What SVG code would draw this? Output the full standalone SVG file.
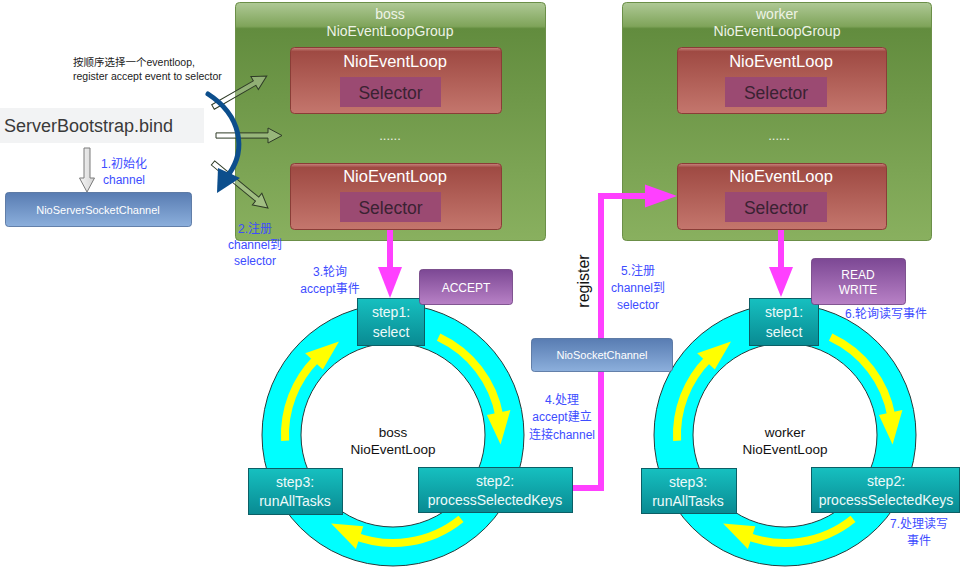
<svg xmlns="http://www.w3.org/2000/svg" xmlns:xlink="http://www.w3.org/1999/xlink" width="960" height="571" viewBox="0 0 960 571">
<defs>
<linearGradient id="gGroup" x1="0" y1="0" x2="0" y2="1">
<stop offset="0" stop-color="#afc996"/>
<stop offset="0.1" stop-color="#7fa45a"/>
<stop offset="0.11" stop-color="#628c3e"/>
<stop offset="1" stop-color="#89b05f"/>
</linearGradient>
<linearGradient id="gRed" x1="0" y1="0" x2="0" y2="1">
<stop offset="0" stop-color="#c98780"/>
<stop offset="0.06" stop-color="#9f4a43"/>
<stop offset="1" stop-color="#c4766d"/>
</linearGradient>
<linearGradient id="gBlue" x1="0" y1="0" x2="0" y2="1">
<stop offset="0" stop-color="#587cb2"/>
<stop offset="1" stop-color="#8cafdc"/>
</linearGradient>
<linearGradient id="gStep" x1="0" y1="0" x2="0" y2="1">
<stop offset="0" stop-color="#16c0c0"/>
<stop offset="1" stop-color="#098a92"/>
</linearGradient>
<linearGradient id="gPurple" x1="0" y1="0" x2="0" y2="1">
<stop offset="0" stop-color="#7c4894"/>
<stop offset="1" stop-color="#b881c6"/>
</linearGradient>
<linearGradient id="gGray" x1="0" y1="0" x2="1" y2="0">
<stop offset="0" stop-color="#f6f6f6"/>
<stop offset="1" stop-color="#d4d4d4"/>
</linearGradient>
<g id="cycle">
<circle cx="393" cy="435" r="131" fill="#00ffff" stroke="#2a3a3a" stroke-width="1"/>
<circle cx="393" cy="435" r="92" fill="#ffffff" stroke="#2a3a3a" stroke-width="1"/>
<path class="yarc" d="M438.6,337.1 A108,108 0 0 1 499.4,416.2"/>
<polygon class="yhead" points="486.9,415 510.4,410.1 500.6,444.4"/>
<path class="yarc" d="M461,518.9 A108,108 0 0 1 352.5,535.1"/>
<polygon class="yhead" points="363.3,526.3 355.9,549.1 331.1,523.5"/>
<path class="yarc" d="M285.1,440.7 A108,108 0 0 1 316.6,358.6"/>
<polygon class="yhead" points="322.8,369.5 305.2,353.2 339,341.5"/>
</g>
</defs>
<style>
text{font-family:"Liberation Sans","Noto Sans CJK SC",sans-serif;}
.grp{fill:url(#gGroup);stroke:#6b8f48;stroke-width:1;}
.gt{fill:#eef3e6;font-size:14px;text-anchor:middle;}
.red{fill:url(#gRed);stroke:#8a3d37;stroke-width:1;}
.nel{fill:#ffffff;font-size:16.5px;text-anchor:middle;}
.sel{fill:#9b4a72;}
.selt{fill:#3a2232;font-size:17.5px;text-anchor:middle;}
.dots{fill:#eef3e6;font-size:13px;text-anchor:middle;}
.step{fill:url(#gStep);stroke:#0b5f66;stroke-width:1;}
.stept{fill:#eefafa;font-size:14px;text-anchor:middle;}
.blue{fill:url(#gBlue);stroke:#4a6a98;stroke-width:0.8;}
.bluet{fill:#ffffff;font-size:11px;text-anchor:middle;}
.lbl{fill:#3d4cff;font-size:12px;text-anchor:middle;}
.ctr{fill:#111;font-size:13.5px;text-anchor:middle;}
.pur{fill:url(#gPurple);stroke:#6b3b7d;stroke-width:0.8;}
.purt{fill:#ffffff;font-size:12px;text-anchor:middle;}
.yarc{fill:none;stroke:#ffff00;stroke-width:8;}
.yhead{fill:#ffff00;}
.pink{fill:none;stroke:#ff40ff;stroke-width:6;}
.pinkh{fill:#ff40ff;}
.hol{fill:#ffffff;fill-opacity:0.25;stroke:#2e3b26;stroke-width:1;}
</style>

<g id="boss-group">
<rect class="grp" x="235.5" y="2.5" width="310" height="238" rx="4"/>
<text class="gt" x="390" y="19">boss</text>
<text class="gt" x="390" y="36">NioEventLoopGroup</text>
<rect class="red" x="290.5" y="47.5" width="211" height="66" rx="4"/>
<text class="nel" x="395" y="67">NioEventLoop</text>
<rect class="sel" x="340" y="77" width="101" height="30"/>
<text class="selt" x="390.5" y="99">Selector</text>
<text class="dots" x="390" y="140">......</text>
<rect class="red" x="290.5" y="163.5" width="211" height="66" rx="4"/>
<text class="nel" x="395" y="182">NioEventLoop</text>
<rect class="sel" x="340" y="192" width="101" height="30"/>
<text class="selt" x="390.5" y="214">Selector</text>
</g>

<g id="worker-group">
<rect class="grp" x="622.5" y="2.5" width="309" height="238" rx="4"/>
<text class="gt" x="777" y="19">worker</text>
<text class="gt" x="777" y="36">NioEventLoopGroup</text>
<rect class="red" x="677.5" y="47.5" width="209" height="66" rx="4"/>
<text class="nel" x="781" y="67">NioEventLoop</text>
<rect class="sel" x="725" y="77" width="102" height="30"/>
<text class="selt" x="776" y="99">Selector</text>
<text class="dots" x="779" y="140">......</text>
<rect class="red" x="677.5" y="163.5" width="209" height="66" rx="4"/>
<text class="nel" x="781" y="182">NioEventLoop</text>
<rect class="sel" x="725" y="192" width="102" height="30"/>
<text class="selt" x="776" y="214">Selector</text>
</g>

<g id="bootstrap">
<rect x="0" y="108" width="204" height="35" fill="#f2f3f4"/>
<text x="4" y="132" font-size="18" fill="#3a3a3a">ServerBootstrap.bind</text>
</g>

<g id="server-socket-channel">
<rect class="blue" x="5.5" y="192.5" width="186" height="34" rx="3"/>
<text class="bluet" x="98" y="214">NioServerSocketChannel</text>
</g>

<g id="connectors">
<polygon points="84,148 90,148 90,178 94.5,178 87,192 79.5,178 84,178" fill="url(#gGray)" stroke="#7a7a7a" stroke-width="1"/>
<polygon class="hol" points="0,-2.6 48,-2.6 48,-7.5 62,0 48,7.5 48,2.6 0,2.6" transform="translate(213,107) rotate(-29.9)"/>
<polygon class="hol" points="0,-2.6 52,-2.6 52,-7.5 66,0 52,7.5 52,2.6 0,2.6" transform="translate(216,135.5)"/>
<polygon class="hol" points="0,-2.6 57,-2.6 57,-7.5 71,0 57,7.5 57,2.6 0,2.6" transform="translate(213,163) rotate(39.3)"/>
<path d="M208,94 C242,116 246,150 229,174" fill="none" stroke="#0c4e8c" stroke-width="5" stroke-linecap="round"/>
<polygon points="217,193 218,168 240,178" fill="#0c4e8c"/>
</g>

<g id="labels">
<text x="73" y="66" font-size="10.5" fill="#222">按顺序选择一个eventloop,</text>
<text x="73" y="80" font-size="10.5" fill="#222">register accept event to selector</text>
<text class="lbl" x="124" y="168">1.初始化</text>
<text class="lbl" x="124" y="184">channel</text>
<text class="lbl" x="255" y="233">2.注册</text>
<text class="lbl" x="255" y="249">channel到</text>
<text class="lbl" x="255" y="265">selector</text>
<text class="lbl" x="330" y="276">3.轮询</text>
<text class="lbl" x="330" y="293">accept事件</text>
<text class="lbl" x="562" y="404">4.处理</text>
<text class="lbl" x="562" y="421">accept建立</text>
<text class="lbl" x="562" y="439">连接channel</text>
<text class="lbl" x="638" y="275">5.注册</text>
<text class="lbl" x="638" y="292">channel到</text>
<text class="lbl" x="638" y="309">selector</text>
<text class="lbl" x="886" y="318">6.轮询读写事件</text>
<text class="lbl" x="919" y="528">7.处理读写</text>
<text class="lbl" x="919" y="545">事件</text>
<text x="0" y="0" font-size="16" fill="#111" text-anchor="middle" transform="translate(589,281) rotate(-90)">register</text>
</g>

<g id="boss-loop">
<use href="#cycle" xlink:href="#cycle"/>
<text class="ctr" x="393" y="437">boss</text>
<text class="ctr" x="393" y="454">NioEventLoop</text>
</g>

<g id="worker-loop">
<use href="#cycle" xlink:href="#cycle" transform="translate(392,0)"/>
<text class="ctr" x="785" y="437">worker</text>
<text class="ctr" x="785" y="454">NioEventLoop</text>
</g>

<g id="pink-connectors">
<path class="pink" d="M390,230 V270"/>
<polygon class="pinkh" points="378,267 402,267 390,298"/>
<path class="pink" d="M781,230 V270"/>
<polygon class="pinkh" points="769,267 793,267 781,297"/>
<path class="pink" d="M572,488 H601 V196 H650"/>
<polygon class="pinkh" points="645,184.5 677,196 645,207.5"/>
</g>

<g id="boss-step1">
<rect class="step" x="357.5" y="298.5" width="67" height="47"/>
<text class="stept" x="391" y="317">step1:</text>
<text class="stept" x="391" y="337">select</text>
</g>
<g id="boss-step2">
<rect class="step" x="418.5" y="467.5" width="154" height="45"/>
<text class="stept" x="495" y="486">step2:</text>
<text class="stept" x="495" y="505">processSelectedKeys</text>
</g>
<g id="boss-step3">
<rect class="step" x="248.5" y="468.5" width="94" height="46"/>
<text class="stept" x="295" y="487">step3:</text>
<text class="stept" x="295" y="506">runAllTasks</text>
</g>

<g id="worker-step1">
<rect class="step" x="749.5" y="298.5" width="69" height="47"/>
<text class="stept" x="784" y="317">step1:</text>
<text class="stept" x="784" y="337">select</text>
</g>
<g id="worker-step2">
<rect class="step" x="811.5" y="467.5" width="148" height="45"/>
<text class="stept" x="886" y="486">step2:</text>
<text class="stept" x="886" y="505">processSelectedKeys</text>
</g>
<g id="worker-step3">
<rect class="step" x="641.5" y="468.5" width="95" height="45"/>
<text class="stept" x="688" y="487">step3:</text>
<text class="stept" x="688" y="506">runAllTasks</text>
</g>

<g id="accept">
<rect class="pur" x="419.5" y="269.5" width="93" height="35" rx="3"/>
<text class="purt" x="466" y="292">ACCEPT</text>
</g>

<g id="read-write">
<rect class="pur" x="811.5" y="258.5" width="94" height="46" rx="3"/>
<text class="purt" x="858" y="279">READ</text>
<text class="purt" x="858" y="294">WRITE</text>
</g>

<g id="nio-socket-channel">
<rect class="blue" x="531.5" y="338.5" width="141" height="33" rx="3"/>
<text class="bluet" x="602" y="359">NioSocketChannel</text>
</g>
</svg>
